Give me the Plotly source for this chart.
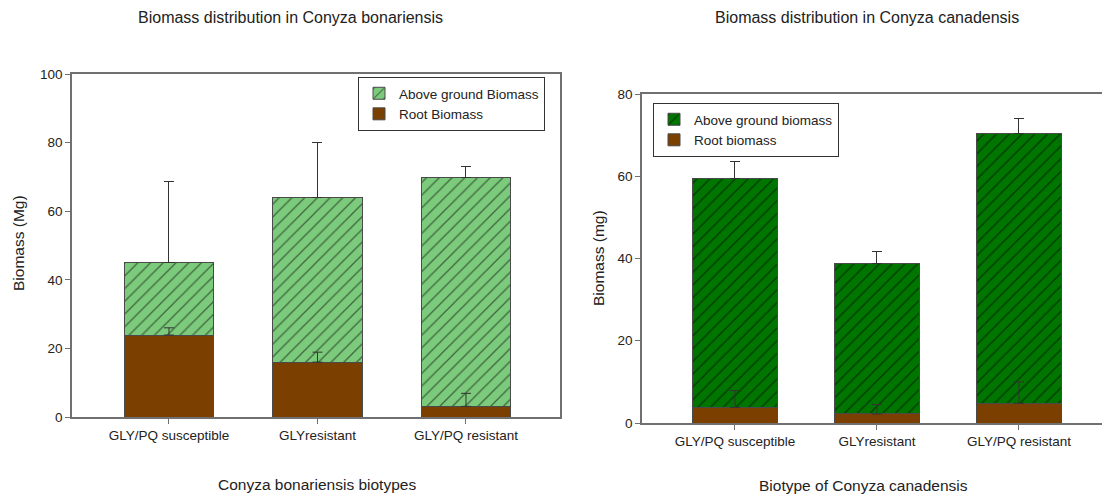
import plotly.graph_objects as go

# Biotypes (shared by both species)
biotypes = ["GLY/PQ susceptible", "GLYresistant", "GLY/PQ resistant"]

# Conyza bonariensis (Mg)
bon_root = [23.9, 16.0, 3.1]
bon_root_err = [2.1, 2.9, 3.8]
bon_above = [21.1, 47.9, 66.7]
bon_total_err = [23.6, 16.0, 3.1]

# Conyza canadensis (mg)
can_root = [3.8, 2.2, 4.8]
can_root_err = [4.1, 2.3, 5.2]
can_above = [55.6, 36.7, 65.7]
can_total_err = [4.2, 2.9, 3.6]

W, H = 1102, 496
FONT = "Liberation Sans, Arial, sans-serif"
TXT = "#222222"
AXC = "#707070"
BROWN = "#7B3F00"
LIGHT_GREEN = "#7CCB7C"
DARK_GREEN = "#007500"
EDGE = "#4a4a4a"


def px_x(p):
    return p / W


def px_y(p):
    return 1 - p / H


fig = go.Figure()


def add_panel(root, root_err, above, total_err, green, xa, ya, legend, names):
    fig.add_trace(go.Bar(
        x=biotypes, y=root, name=names[1], xaxis=xa, yaxis=ya, legend=legend,
        marker=dict(color=BROWN, line=dict(color=EDGE, width=1)),
        width=0.6,
    ))
    fig.add_trace(go.Bar(
        x=biotypes, y=above, name=names[0], xaxis=xa, yaxis=ya, legend=legend,
        marker=dict(color=green, line=dict(color=EDGE, width=1),
                    pattern=dict(shape="/", size=9, solidity=0.14,
                                 fgcolor="#000000", bgcolor=green)),
        width=0.6,
        error_y=dict(type="data", symmetric=False, array=total_err,
                     arrayminus=[0] * len(total_err), color="#333333",
                     thickness=1, width=5),
    ))
    # root error bars drawn on top of the stacked segments
    fig.add_trace(go.Scatter(
        x=biotypes, y=root, mode="markers", xaxis=xa, yaxis=ya,
        marker=dict(size=1, color="rgba(0,0,0,0)"), showlegend=False,
        hoverinfo="skip",
        error_y=dict(type="data", symmetric=False, array=root_err,
                     arrayminus=[0] * len(root_err), color="#333333",
                     thickness=1, width=5),
    ))


add_panel(bon_root, bon_root_err, bon_above, bon_total_err, LIGHT_GREEN,
          "x", "y", "legend", ["Above ground Biomass", "Root Biomass"])
add_panel(can_root, can_root_err, can_above, can_total_err, DARK_GREEN,
          "x2", "y2", "legend2", ["Above ground biomass", "Root biomass"])

tickfont = dict(family=FONT, size=13.5, color=TXT)
axis_common = dict(showgrid=False, zeroline=False, showline=True,
                   linecolor=AXC, linewidth=1.5, ticks="outside", ticklen=5,
                   tickcolor=AXC, tickwidth=1, tickfont=tickfont,
                   automargin=False)

legend_common = dict(bgcolor="white", bordercolor="#333333", borderwidth=1,
                     font=dict(family=FONT, size=13.5, color=TXT),
                     traceorder="reversed", xanchor="left", yanchor="top",
                     tracegroupgap=0, itemwidth=30)

fig.update_layout(
    width=W, height=H, autosize=False,
    margin=dict(l=0, r=0, t=0, b=0),
    paper_bgcolor="white", plot_bgcolor="white",
    barmode="stack",
    font=dict(family=FONT, color=TXT),
    xaxis=dict(domain=[px_x(72), px_x(560)], range=[-0.653, 2.633],
               anchor="y", mirror=True, **axis_common),
    yaxis=dict(domain=[px_y(417), px_y(74)], range=[0, 100], dtick=20,
               anchor="x", mirror=True, **axis_common),
    xaxis2=dict(domain=[px_x(642), 1.0], range=[-0.655, 2.585],
                anchor="y2", mirror=True, **axis_common),
    yaxis2=dict(domain=[px_y(423), px_y(94)], range=[0, 80], dtick=20,
                anchor="x2", mirror=False, **axis_common),
    legend=dict(x=px_x(358), y=px_y(77), **legend_common),
    legend2=dict(x=px_x(653), y=px_y(103), **legend_common),
)

texts = [
    ("Biomass distribution in Conyza bonariensis", 290, 18, 16, 0),
    ("Biomass distribution in Conyza canadensis", 867, 18, 16, 0),
    ("Conyza bonariensis biotypes", 317, 484, 15.5, 0),
    ("Biotype of Conyza canadensis", 863, 485, 15.5, 0),
    ("Biomass (Mg)", 18, 243, 15.5, -90),
    ("Biomass (mg)", 598, 258, 15.5, -90),
]
for t, x, y, s, ang in texts:
    fig.add_annotation(text=t, x=px_x(x), y=px_y(y), xref="paper", yref="paper",
                       showarrow=False, textangle=ang, xanchor="center",
                       yanchor="middle", font=dict(family=FONT, size=s, color=TXT))

fig.write_html("out.html")
